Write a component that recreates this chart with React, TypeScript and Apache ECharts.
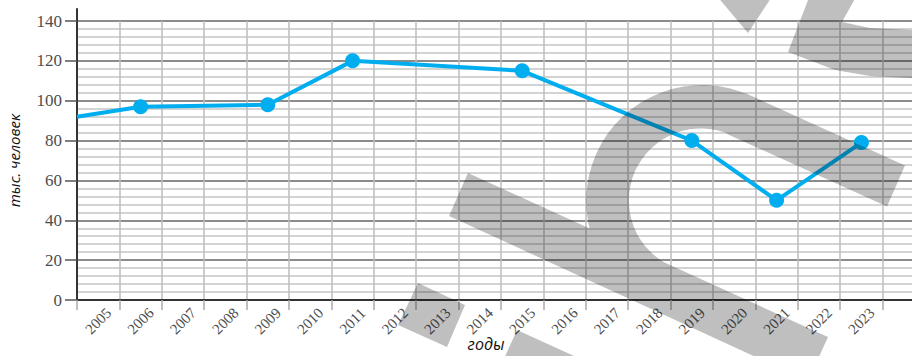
import React, { useEffect, useRef } from 'react';
import * as echarts from 'echarts';

// x-axis category labels (the trailing blank is the partial band past 2023)
const yearLabels = [
  '2005', '2006', '2007', '2008', '2009', '2010', '2011', '2012', '2013', '2014',
  '2015', '2016', '2017', '2018', '2019', '2020', '2021', '2022', '2023', '',
];
// measured points (years with markers)
const pointYears = [2006, 2009, 2011, 2015, 2019, 2021, 2023];
const pointValues = [97, 98, 120, 115, 80, 50, 79];
// the line enters the plot from the left edge at this value
const leadInYear = 2004.5;
const leadInValue = 92;

const yMin = 0;
const yMax = 140;
const yStep = 20;
const yAxisName = 'тыс. человек';
const xAxisName = 'годы';

// watermark overlay outline
const WATERMARK_D =
  'M468 173 L828 337 L808 381 L449 216 Z ' +
  'M745 93 L905 165.5 L887 206.5 L727 134 Z ' +
  'M656.5 307.6 A116 116 0 1 1 750.9 95.7 L731.6 135.3 A72 72 0 1 0 673 266.8 Z ' +
  'M418 283 L465 305 L447 347 L398 325 Z ' +
  'M517 330 L640 386 L620 430 L497 374 Z ' +
  'M716 -5 L773 -5 L748 33 Z ' +
  'M810 -5 L857 -5 L842 22 L870 28 L912 30 L925 30 L925 79 L870 76 L835 70 L788 52 Z';

export default function App() {
  const ref = useRef<HTMLDivElement>(null);

  useEffect(() => {
    echarts.graphic.registerShape('watermark', echarts.graphic.extendPath(WATERMARK_D, {}) as any);
    const chart = echarts.init(ref.current as HTMLDivElement, null, { renderer: 'svg' });

    const lineData: any[] = [
      { value: [leadInYear, leadInValue], symbol: 'none' },
      ...pointYears.map((y, i) => [y, pointValues[i]]),
    ];

    const option: any = {
      animation: false,
      backgroundColor: '#ffffff',
      grid: [
        { left: 77, top: 21, right: -13, bottom: 56, outerBoundsMode: 'none', containLabel: false },
        { left: 77, top: 9, right: -13, bottom: 56, outerBoundsMode: 'none', containLabel: false },
      ],
      xAxis: [
        {
          type: 'category',
          gridIndex: 0,
          data: yearLabels,
          boundaryGap: true,
          axisLine: { show: true, lineStyle: { color: '#333', width: 2 } },
          axisTick: { show: true, interval: 0, length: 10, lineStyle: { color: '#aaa', width: 1.5 } },
          splitLine: { show: true, interval: 0, lineStyle: { color: '#bdbdbd', width: 1.5 } },
          axisLabel: {
            interval: 0,
            rotate: 45,
            align: 'center',
            verticalAlign: 'middle',
            margin: 21,
            hideOverlap: false,
            fontFamily: 'Liberation Serif',
            fontSize: 15,
            color: '#4d4d4d',
          },
          name: xAxisName,
          nameLocation: 'middle',
          nameGap: 36,
          nameMoveOverlap: false,
          nameTextStyle: {
            fontStyle: 'italic',
            fontFamily: 'Open Sans',
            fontSize: 16,
            lineHeight: 16,
            color: '#111',
            padding: [0, 30, 0, 0],
          },
        },
        {
          type: 'value',
          gridIndex: 0,
          min: 2004.5,
          max: 2024.5,
          show: false,
        },
        {
          type: 'value',
          gridIndex: 1,
          show: false,
        },
      ],
      yAxis: [
        {
          type: 'value',
          gridIndex: 0,
          min: yMin,
          max: yMax,
          interval: yStep,
          axisLine: { show: false },
          axisTick: { show: true, length: 12, lineStyle: { color: '#555', width: 1.5 } },
          axisLabel: {
            margin: 15,
            fontFamily: 'Liberation Serif',
            fontSize: 17,
            color: '#4d4d4d',
          },
          splitLine: { show: true, lineStyle: { color: '#8c8c8c', width: 2 } },
          minorTick: { show: false, splitNumber: 5 },
          minorSplitLine: { show: true, lineStyle: { color: '#c4c4c4', width: 1.5 } },
          name: yAxisName,
          nameLocation: 'middle',
          nameGap: 56,
          nameRotate: 90,
          nameMoveOverlap: false,
          nameTextStyle: {
            fontStyle: 'italic',
            fontFamily: 'Open Sans',
            fontSize: 15,
            color: '#111',
          },
        },
        {
          type: 'value',
          gridIndex: 1,
          axisLine: { show: true, onZero: false, lineStyle: { color: '#333', width: 2 } },
          axisTick: { show: false },
          axisLabel: { show: false },
          splitLine: { show: false },
        },
      ],
      series: [
        {
          type: 'line',
          xAxisIndex: 1,
          yAxisIndex: 0,
          data: lineData,
          symbol: 'circle',
          symbolSize: 15,
          showAllSymbol: true,
          lineStyle: { color: '#00AEEF', width: 4 },
          itemStyle: { color: '#00AEEF' },
          z: 5,
        },
      ],
      graphic: [
        {
          type: 'watermark',
          x: 0,
          y: 0,
          silent: true,
          z: 100,
          style: { fill: 'rgba(0,0,0,0.25)' },
        },
      ],
    };

    chart.setOption(option);
    return () => chart.dispose();
  }, []);

  return (
    <div
      ref={ref}
      style={{ position: 'absolute', left: 0, top: 0, width: 912, height: 356 }}
    />
  );
}
